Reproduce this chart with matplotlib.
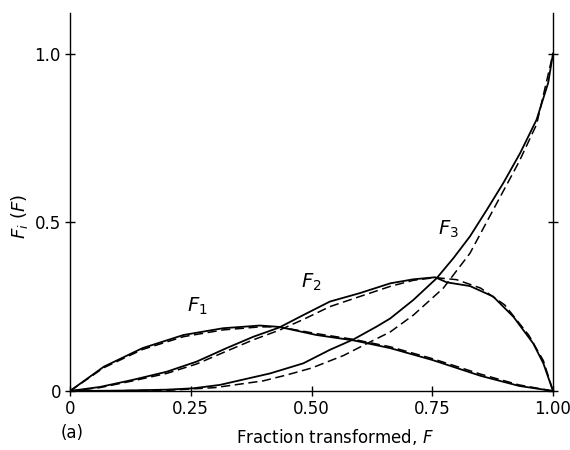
import matplotlib
matplotlib.use('Agg')
import numpy as np
import matplotlib.pyplot as plt

# solid curves (measured) and dashed curves (calculated)
f1_x = [0, 0.07, 0.15, 0.235, 0.317, 0.393, 0.433, 0.51, 0.587, 0.663, 0.75, 0.85, 0.93, 1.0]
f1_y = [0, 0.072, 0.127, 0.166, 0.186, 0.194, 0.19, 0.166, 0.15, 0.127, 0.092, 0.045, 0.015, 0.0]
f1d_y = [0, 0.069, 0.123, 0.161, 0.181, 0.19, 0.19, 0.17, 0.153, 0.131, 0.096, 0.05, 0.018, 0.0]

f2_x = [0, 0.062, 0.13, 0.2, 0.262, 0.324, 0.38, 0.433, 0.483, 0.538, 0.6, 0.663, 0.711,
        0.756, 0.78, 0.828, 0.876, 0.918, 0.959, 0.98, 1.0]
f2_y = [0, 0.012, 0.033, 0.057, 0.087, 0.127, 0.161, 0.188, 0.225, 0.265, 0.29, 0.319, 0.331,
        0.337, 0.322, 0.311, 0.28, 0.22, 0.141, 0.082, 0]
f2d_x = [0, 0.062, 0.13, 0.2, 0.262, 0.324, 0.38, 0.433, 0.483, 0.538, 0.6, 0.663, 0.711,
         0.756, 0.8, 0.85, 0.9, 0.95, 0.98, 1.0]
f2d_y = [0, 0.01, 0.03, 0.052, 0.08, 0.118, 0.152, 0.18, 0.212, 0.25, 0.28, 0.31, 0.328,
         0.336, 0.33, 0.305, 0.255, 0.165, 0.09, 0]

f3_x = [0, 0.1, 0.2, 0.255, 0.31, 0.414, 0.483, 0.538, 0.587, 0.635, 0.663, 0.711, 0.759,
        0.794, 0.828, 0.863, 0.897, 0.932, 0.966, 0.99, 1.0]
f3_y = [0, 0.001, 0.004, 0.008, 0.018, 0.052, 0.082, 0.122, 0.153, 0.191, 0.215, 0.27, 0.334,
        0.394, 0.458, 0.537, 0.616, 0.705, 0.804, 0.913, 1.0]
f3d_x = [0, 0.2, 0.3, 0.4, 0.45, 0.5, 0.566, 0.614, 0.663, 0.711, 0.773, 0.828, 0.883, 0.93,
         0.966, 1.0]
f3d_y = [0, 0.002, 0.01, 0.03, 0.048, 0.068, 0.105, 0.14, 0.175, 0.225, 0.305, 0.408, 0.555,
         0.68, 0.79, 1.0]

x_ticks = [0, 0.25, 0.5, 0.75, 1.0]
x_labels = ['0', '0.25', '0.50', '0.75', '1.00']
y_ticks = [0, 0.5, 1.0]
y_labels = ['0', '0.5', '1.0']

fig = plt.figure(figsize=(5.7, 4.5), dpi=100)
ax = fig.add_axes([0.1228, 0.1311, 0.8474, 0.84])

ax.plot(f1_x, f1_y, 'k-', lw=1.3)
ax.plot(f1_x, f1d_y, 'k--', lw=1.1, dashes=(6, 3))
ax.plot(f2_x, f2_y, 'k-', lw=1.3)
ax.plot(f2d_x, f2d_y, 'k--', lw=1.1, dashes=(6, 3))
ax.plot(f3_x, f3_y, 'k-', lw=1.3)
ax.plot(f3d_x, f3d_y, 'k--', lw=1.1, dashes=(6, 3))

ax.set_xlim(0, 1.0)
ax.set_ylim(0, 1.12)
ax.spines['top'].set_visible(False)
for s in ['left', 'right', 'bottom']:
    ax.spines[s].set_linewidth(1.0)

ax.set_xticks(x_ticks)
ax.set_xticklabels(x_labels)
ax.set_yticks(y_ticks)
ax.set_yticklabels(y_labels)
ax.tick_params(direction='inout', length=7, width=1, labelsize=12, pad=3)
ax.tick_params(axis='y', right=True, labelright=False)

# curve labels
ax.text(0.263, 0.25, r'$F_1$', fontsize=14, ha='center', va='center')
ax.text(0.5, 0.323, r'$F_2$', fontsize=14, ha='center', va='center')
ax.text(0.783, 0.478, r'$F_3$', fontsize=14, ha='center', va='center')

fig.text(0.035, 0.52, r'$F_i\ (F)$', rotation=90, fontsize=13, ha='center', va='center')
fig.text(0.588, 0.028, r'Fraction transformed, $F$', fontsize=12, ha='center', va='center')
fig.text(0.127, 0.038, '(a)', fontsize=12, ha='center', va='center')

plt.savefig('out.png', dpi=100)
